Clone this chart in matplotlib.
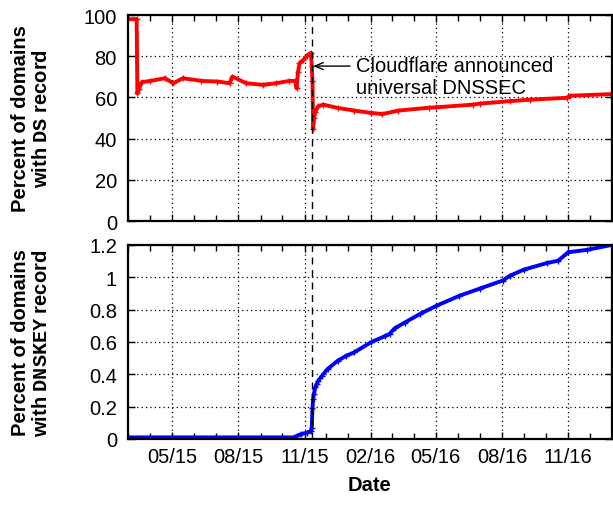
import matplotlib
matplotlib.use("Agg")
import matplotlib.pyplot as plt
import matplotlib.dates as mdates
import matplotlib.ticker as mticker
import pandas as pd

# ---------------- data ----------------
ds_dates = ["2015-03-01", "2015-03-13", "2015-03-14", "2015-03-16", "2015-03-20",
            "2015-04-01", "2015-04-21", "2015-05-03", "2015-05-16", "2015-06-11",
            "2015-07-03", "2015-07-20", "2015-07-24", "2015-08-12", "2015-09-04",
            "2015-09-23", "2015-10-11", "2015-10-19", "2015-10-21", "2015-10-23",
            "2015-10-25", "2015-10-30", "2015-11-04", "2015-11-08", "2015-11-10",
            "2015-11-11", "2015-11-12", "2015-11-13", "2015-11-14", "2015-11-16",
            "2015-11-20", "2015-11-27", "2015-12-17", "2016-01-09", "2016-02-01",
            "2016-02-17", "2016-03-10", "2016-04-22", "2016-05-02", "2016-06-22",
            "2016-07-01", "2016-08-12", "2016-09-09", "2016-10-30", "2016-11-03",
            "2016-12-31"]
ds_values = [98.0, 98.0, 62.0, 64.0, 67.4,
             68.0, 69.3, 66.9, 69.3, 68.0,
             67.7, 66.9, 70.1, 66.9, 66.1,
             66.9, 68.0, 68.0, 64.5, 72.5,
             76.5, 78.1, 80.2, 81.3, 81.5,
             75.4, 68.0, 44.6, 50.0, 53.0,
             55.7, 56.5, 54.9, 53.6, 52.5,
             51.9, 53.6, 55.0, 55.2, 56.5,
             57.0, 58.2, 58.9, 59.8, 60.8,
             61.6]

key_dates = ["2015-03-01", "2015-10-18", "2015-10-22", "2015-10-27", "2015-11-05",
             "2015-11-10", "2015-11-11", "2015-11-12", "2015-11-13", "2015-11-14",
             "2015-11-16", "2015-11-18", "2015-11-20", "2015-11-25", "2015-12-03",
             "2015-12-17", "2015-12-29", "2016-01-09", "2016-02-01", "2016-02-20",
             "2016-02-27", "2016-03-05", "2016-03-19", "2016-04-09", "2016-05-02",
             "2016-06-03", "2016-07-01", "2016-08-02", "2016-08-12", "2016-08-31",
             "2016-10-02", "2016-10-18", "2016-11-01", "2016-11-27", "2016-12-31"]
key_values = [0.01, 0.01, 0.02, 0.03, 0.04,
              0.05, 0.07, 0.19, 0.25, 0.28,
              0.32, 0.34, 0.36, 0.39, 0.433,
              0.484, 0.515, 0.536, 0.598, 0.635,
              0.65, 0.684, 0.72, 0.773, 0.824,
              0.886, 0.93, 0.98, 1.01, 1.047,
              1.088, 1.103, 1.155, 1.17, 1.2]

event_date = "2015-11-11"
event_text = "Cloudflare announced\nuniversal DNSSEC"
ds_ticks = [0, 20, 40, 60, 80, 100]
key_ticks = [0, 0.2, 0.4, 0.6, 0.8, 1.0, 1.2]

# ---------------- style ----------------
plt.rcParams['font.family'] = ['Liberation Sans', 'DejaVu Sans']
plt.rcParams['mathtext.fontset'] = 'custom'
plt.rcParams['mathtext.tt'] = 'Liberation Mono:bold'
FS = 14.5

W, H = 613, 506
fig = plt.figure(figsize=(W / 100, H / 100), dpi=100)
ax1 = fig.add_axes([128 / W, 1 - 222 / H, (611.5 - 128) / W, (222 - 16) / H])
ax2 = fig.add_axes([128 / W, 1 - 440 / H, (611.5 - 128) / W, (440 - 246) / H])

xmin = pd.Timestamp("2015-03-01")
xmax = pd.Timestamp("2016-12-31")
ev = pd.Timestamp(event_date)

ax1.plot(pd.to_datetime(ds_dates), ds_values, color='#ff0000', lw=2.8,
         marker='+', ms=4, mew=1, solid_joinstyle='round')
ax2.plot(pd.to_datetime(key_dates), key_values, color='#0000ff', lw=2.8,
         marker='+', ms=4, mew=1, solid_joinstyle='round')

for ax, ticks, ylim in ((ax1, ds_ticks, (0, 100)), (ax2, key_ticks, (0, 1.2))):
    ax.set_xlim(xmin, xmax)
    ax.set_ylim(*ylim)
    ax.set_yticks(ticks)
    ax.yaxis.set_major_formatter(mticker.FuncFormatter(lambda v, p: f"{v:g}"))
    ax.xaxis.set_major_locator(mdates.MonthLocator(bymonth=[2, 5, 8, 11]))
    ax.xaxis.set_minor_locator(mdates.MonthLocator())
    ax.xaxis.set_major_formatter(mdates.DateFormatter('%m/%y'))
    ax.grid(True, which='major', color='black', linestyle=(0, (1, 2.5)), lw=0.9)
    ax.axvline(ev, color='black', lw=1.0, linestyle=(0, (5, 4)))
    ax.tick_params(which='both', direction='in', top=True, right=True,
                   labelsize=FS, width=1)
    ax.tick_params(which='major', length=5)
    ax.tick_params(which='minor', length=4)
    ax.tick_params(axis='y', pad=8)
    ax.tick_params(axis='x', pad=6)
    for s in ax.spines.values():
        s.set_linewidth(1.6)

ax1.tick_params(axis='x', which='both', labelbottom=False)
ax2.set_xlabel("Date", fontsize=FS, fontweight='bold', labelpad=6)

ax1.annotate('', xy=(ev, 75.2), xytext=(pd.Timestamp("2016-01-03"), 75.2),
             arrowprops=dict(arrowstyle='->,head_length=0.6,head_width=0.25',
                             color='black', lw=1.0, shrinkA=0, shrinkB=1))
ax1.text(pd.Timestamp("2016-01-11"), 62.0, event_text, fontsize=FS,
         ha='left', va='baseline', linespacing=1.22,
         transform=ax1.transData)

fig.text(31 / W, 1 - 119 / H, "Percent of domains\nwith $\\mathtt{DS}$ record",
         rotation=90, ha='center', va='center', multialignment='center',
         fontsize=FS, fontweight='bold', linespacing=1.1)
fig.text(31 / W, 1 - 343 / H, "Percent of domains\nwith $\\mathtt{DNSKEY}$ record",
         rotation=90, ha='center', va='center', multialignment='center',
         fontsize=FS, fontweight='bold', linespacing=1.1)

fig.savefig("out.png", dpi=100)
